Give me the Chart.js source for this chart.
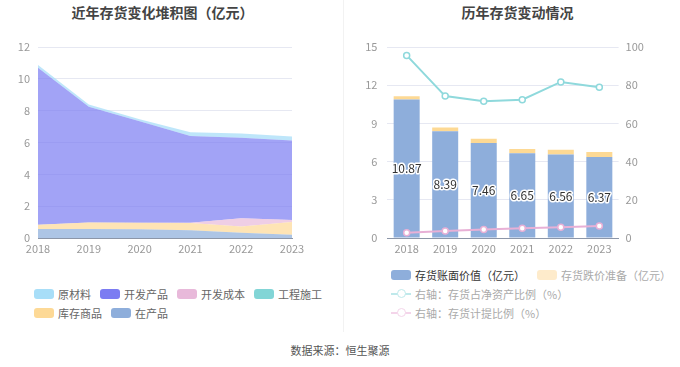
<!DOCTYPE html>
<html><head><meta charset="utf-8">
<script src="https://cdn.jsdelivr.net/npm/chart.js@4.4.1/dist/chart.umd.min.js"></script>
<style>
body{margin:0;width:680px;height:367px;background:#fff;position:relative;overflow:hidden;font-family:"Noto Sans CJK SC","Noto Sans",sans-serif;}
.title{position:absolute;top:2px;font-size:14px;font-weight:bold;color:#444;text-align:center;line-height:20px;}
.divider{position:absolute;left:343px;top:0;width:1px;height:332px;background:#f2f2f2;}
canvas{position:absolute;}
.legend{position:absolute;font-size:11px;color:#666;}
.row{display:flex;align-items:center;height:19px;white-space:nowrap;}
.item{display:flex;align-items:center;margin-right:9px;}
.box{width:20px;height:10px;border-radius:3px;margin-right:4px;}
.sym{width:20px;height:10px;margin-right:4px;position:relative;}
.sym .ln{position:absolute;left:0;right:0;top:4.5px;height:1.5px;}
.sym .cc{position:absolute;left:5.5px;top:0.5px;width:7px;height:7px;border-radius:50%;background:#fff;border:1.5px solid;}
.footer{position:absolute;left:0;width:680px;top:342px;text-align:center;font-size:11px;color:#555;}
</style></head>
<body>
<div class="title" style="left:40px;width:245px;">近年存货变化堆积图（亿元）</div>
<div class="title" style="left:400px;width:235px;">历年存货变动情况</div>
<div class="divider"></div>
<canvas id="c1" width="340" height="262" style="left:0;top:0;width:340px;height:262px;"></canvas>
<canvas id="c2" width="340" height="262" style="left:340px;top:0;width:340px;height:262px;"></canvas>

<div class="legend" style="left:34px;top:284px;">
  <div class="row">
    <div class="item"><div class="box" style="background:#a8def8"></div>原材料</div>
    <div class="item"><div class="box" style="background:#7b7cf2"></div>开发产品</div>
    <div class="item"><div class="box" style="background:#e8b9da"></div>开发成本</div>
    <div class="item"><div class="box" style="background:#82d5d6"></div>工程施工</div>
  </div>
  <div class="row">
    <div class="item"><div class="box" style="background:#fdd996"></div>库存商品</div>
    <div class="item"><div class="box" style="background:#8eaedb"></div>在产品</div>
  </div>
</div>

<div class="legend" style="left:391px;top:265px;">
  <div class="row">
    <div class="item" style="color:#333;margin-right:12px;"><div class="box" style="background:#8eaedb"></div>存货账面价值（亿元）</div>
    <div class="item" style="color:#aaa"><div class="box" style="background:#feebcb"></div>存货跌价准备（亿元）</div>
  </div>
  <div class="row">
    <div class="item" style="color:#aaa"><div class="sym"><div class="ln" style="background:#bfe9eb"></div><div class="cc" style="border-color:#bfe9eb"></div></div>右轴：存货占净资产比例（%）</div>
  </div>
  <div class="row">
    <div class="item" style="color:#aaa"><div class="sym"><div class="ln" style="background:#f4d5ea"></div><div class="cc" style="border-color:#f4d5ea"></div></div>右轴：存货计提比例（%）</div>
  </div>
</div>
<div class="footer">数据来源：恒生聚源</div>

<script>
const years = ['2018','2019','2020','2021','2022','2023'];
// left stacked area (亿元)
const zaiChanPin   = [0.57,0.57,0.55,0.48,0.33,0.21];
const kuCunShangPin= [0.27,0.41,0.41,0.46,0.40,0.79];
const gongChengShiGong=[0,0,0,0,0,0];
const kaiFaChengBen= [0,0,0,0.02,0.51,0.13];
const kaiFaChanPin = [9.85,7.27,6.37,5.45,5.06,5.00];
const yuanCaiLiao  = [0.18,0.14,0.13,0.24,0.26,0.24];
// right chart
const bookValue    = [10.87,8.39,7.46,6.65,6.56,6.37];
const impairment   = [0.26,0.28,0.34,0.34,0.38,0.38];
const ratioNetAsset= [95.6,74.3,71.6,72.4,81.7,78.9];
const ratioProvision=[2.8,3.7,4.4,5.1,5.6,6.3];
const leftTicks = [0,2,4,6,8,10,12];

const FONT = '"Noto Sans CJK SC","Noto Sans",sans-serif';
Chart.defaults.font.family = FONT;
Chart.defaults.font.size = 11;
Chart.defaults.color = '#999';
Chart.defaults.animation = false;
Chart.defaults.responsive = false;

function area(label, data, color, fill){
  return {label, data, backgroundColor: color, borderWidth:0, borderColor:color, pointRadius:0, fill, tension:0};
}
new Chart(document.getElementById('c1'), {
  type:'line',
  data:{labels:years, datasets:[
    area('在产品', zaiChanPin, 'rgba(142,174,219,0.72)', 'origin'),
    area('库存商品', kuCunShangPin, 'rgba(253,217,150,0.7)', '-1'),
    area('工程施工', gongChengShiGong, 'rgba(130,213,214,0.7)', '-1'),
    area('开发成本', kaiFaChengBen, 'rgba(232,185,218,0.7)', '-1'),
    area('开发产品', kaiFaChanPin, 'rgba(123,124,242,0.7)', '-1'),
    area('原材料', yuanCaiLiao, 'rgba(168,222,248,0.75)', '-1'),
  ]},
  options:{
    layout:{padding:{top:47,right:48,left:0,bottom:0}},
    plugins:{legend:{display:false},tooltip:{enabled:false}},
    scales:{
      x:{offset:false, grid:{display:false, drawTicks:true, tickLength:4, tickColor:'#8c96a8'}, border:{color:'#8c96a8'},
         ticks:{color:'#999',padding:0,maxRotation:0}, afterFit:s=>{s.height=24;}},
      y:{stacked:true, min:0, max:12, afterBuildTicks:s=>{s.ticks=leftTicks.map(v=>({value:v}));},
         grid:{color:'#e6e8f2', drawTicks:false}, border:{display:false},
         ticks:{color:'#999',padding:8}, afterFit:s=>{s.width=38;}}
    }
  }
});

const labelPlugin = {
  id:'barLabels',
  afterDatasetsDraw(chart){
    const meta = chart.getDatasetMeta(2);
    const ctx = chart.ctx;
    ctx.save();
    ctx.font = '12px ' + FONT;
    ctx.textAlign='center'; ctx.textBaseline='middle';
    ctx.lineJoin='round';
    meta.data.forEach((bar,i)=>{
      const y = (bar.y + bar.base)/2;
      const t = bookValue[i].toFixed(2);
      ctx.strokeStyle='#fff'; ctx.lineWidth=3; ctx.strokeText(t, bar.x, y);
      ctx.fillStyle='#333'; ctx.fillText(t, bar.x, y);
    });
    ctx.restore();
  }
};
const leftAxisTicks=[0,3,6,9,12,15], rightAxisTicks=[0,20,40,60,80,100];
new Chart(document.getElementById('c2'), {
  type:'bar',
  data:{labels:years, datasets:[
    {type:'line', label:'右轴：存货占净资产比例（%）', data:ratioNetAsset, yAxisID:'y1', order:0,
     borderColor:'#8fd9dc', borderWidth:2, pointRadius:3, pointBackgroundColor:'#fff', pointBorderColor:'#8fd9dc', pointBorderWidth:1.5, tension:0},
    {type:'line', label:'右轴：存货计提比例（%）', data:ratioProvision, yAxisID:'y1', order:0,
     borderColor:'#e8b0d6', borderWidth:2, pointRadius:3, pointBackgroundColor:'#fff', pointBorderColor:'#e8b0d6', pointBorderWidth:1.5, tension:0},
    {label:'存货账面价值（亿元）', data:bookValue, backgroundColor:'#8eaedb', stack:'s', yAxisID:'y', order:1,
     categoryPercentage:1, barPercentage:0.675},
    {label:'存货跌价准备（亿元）', data:impairment, backgroundColor:'#fdd994', stack:'s', yAxisID:'y', order:1,
     categoryPercentage:1, barPercentage:0.675},
  ]},
  options:{
    layout:{padding:{top:47,right:0,left:0,bottom:0}},
    plugins:{legend:{display:false},tooltip:{enabled:false}},
    scales:{
      x:{stacked:true, grid:{display:false, drawTicks:true, tickLength:4, tickColor:'#8c96a8'}, border:{color:'#8c96a8'},
         ticks:{color:'#999',padding:0}, afterFit:s=>{s.height=24;}},
      y:{stacked:true, position:'left', min:0, max:15,
         afterBuildTicks:s=>{s.ticks=leftAxisTicks.map(v=>({value:v}));},
         grid:{color:'#e6e8f2', drawTicks:false}, border:{display:false},
         ticks:{color:'#999',padding:10}, afterFit:s=>{s.width=47.4;}},
      y1:{position:'right', min:0, max:100,
         afterBuildTicks:s=>{s.ticks=rightAxisTicks.map(v=>({value:v}));},
         grid:{display:false, drawTicks:false}, border:{display:false},
         ticks:{color:'#999',padding:7}, afterFit:s=>{s.width=61.4;}}
    }
  },
  plugins:[labelPlugin]
});
</script>
</body></html>
